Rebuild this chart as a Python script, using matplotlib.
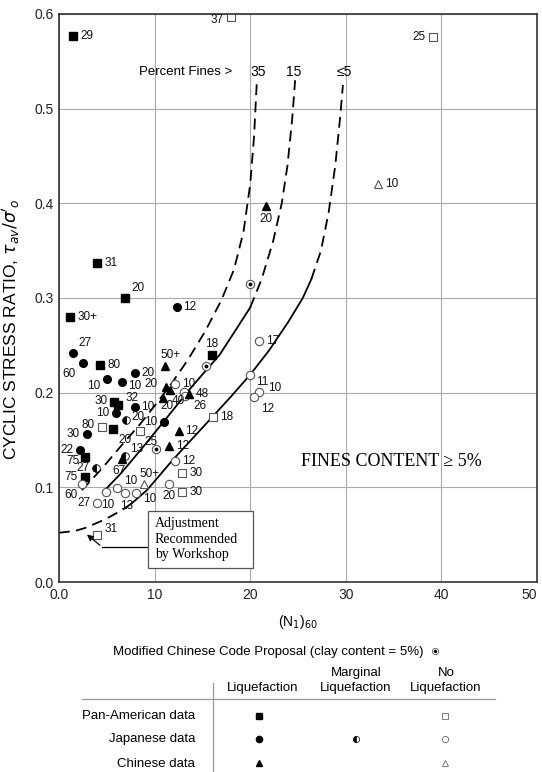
import numpy as np
import matplotlib
matplotlib.use("Agg")
import matplotlib.pyplot as plt
from matplotlib.patches import Rectangle

plt.rcParams['font.family'] = ['Liberation Sans', 'DejaVu Sans']

# ---- field case histories: (N1)60, cyclic stress ratio, label ----
pan_liq_x = [1.5, 4.0, 6.9, 1.2, 4.3, 16.0, 5.8, 6.2, 5.6, 2.7, 2.7]
pan_liq_y = [0.577, 0.337, 0.300, 0.280, 0.229, 0.240, 0.190, 0.187, 0.162, 0.132, 0.111]
pan_liq_lab = ['29', '31', '20', '30+', '80', '18', '30', '32', '20', '75', '75']

pan_no_x = [18.0, 39.1, 4.5, 8.5, 16.1, 12.9, 12.9, 4.0]
pan_no_y = [0.597, 0.576, 0.164, 0.160, 0.174, 0.115, 0.095, 0.050]
pan_no_lab = ['37', '25', '80', '25', '18', '30', '30', '31']

jap_liq_x = [12.3, 1.5, 2.5, 7.9, 5.0, 6.6, 7.9, 6.0, 2.9, 2.2, 11.0]
jap_liq_y = [0.290, 0.242, 0.231, 0.221, 0.214, 0.211, 0.185, 0.179, 0.156, 0.139, 0.169]
jap_liq_lab = ['12', '27', '60', '20', '10', '10', '10', '10', '30', '22', '10']

jap_marg_x = [7.0, 6.9, 3.9]
jap_marg_y = [0.171, 0.133, 0.120]
jap_marg_lab = ['20', '13', '27']

jap_no_x = [12.1, 13.1, 13.2, 20.9, 20.0, 20.9, 20.4, 12.1, 11.5, 2.4, 4.9, 6.1, 6.9, 8.1, 4.0]
jap_no_y = [0.209, 0.201, 0.196, 0.255, 0.219, 0.201, 0.195, 0.128, 0.104, 0.104,
            0.095, 0.099, 0.094, 0.094, 0.083]
jap_no_lab = ['10', '', '26', '17', '11', '10', '12', '12', '20', '60',
              '10', '10', '13', '10', '27']

chi_liq_x = [21.7, 11.1, 11.2, 11.6, 10.9, 13.6, 12.5, 11.5, 6.6]
chi_liq_y = [0.397, 0.228, 0.206, 0.203, 0.194, 0.199, 0.160, 0.144, 0.130]
chi_liq_lab = ['20', '50+', '20', '20', '40', '48', '12', '12', '67']

chi_no_x = [33.4, 8.9]
chi_no_y = [0.420, 0.104]
chi_no_lab = ['10', '50+']

mcc_x = [20.0, 15.4, 10.1]
mcc_y = [0.315, 0.228, 0.140]

# ---- boundary curves for fines content 35 %, 15 %, <=5 % ----
f35_x = [2.4, 4.5, 6.6, 8.5, 10.3, 11.8, 13.5, 15.3, 17.0, 18.3, 19.3, 20.0, 20.4, 20.7]
f35_y = [0.097, 0.120, 0.145, 0.167, 0.190, 0.210, 0.235, 0.265, 0.298, 0.33, 0.37, 0.42, 0.47, 0.53]

f15_solid_x = [4.6, 6.5, 8.5, 11.0, 13.7, 15.5, 16.8, 18.6, 20.0]
f15_solid_y = [0.095, 0.115, 0.139, 0.170, 0.204, 0.225, 0.240, 0.268, 0.290]
f15_dash_x = [20.0, 21.2, 22.4, 23.3, 23.9, 24.4, 24.7]
f15_dash_y = [0.290, 0.32, 0.36, 0.40, 0.44, 0.49, 0.53]

f5_solid_x = [7.6, 9.2, 11.9, 14.0, 16.1, 18.0, 20.0, 22.0, 24.0, 25.5, 26.4]
f5_solid_y = [0.083, 0.097, 0.129, 0.152, 0.175, 0.196, 0.219, 0.245, 0.275, 0.300, 0.320]
f5_dash_x = [26.4, 27.4, 28.2, 28.9, 29.4, 29.7]
f5_dash_y = [0.320, 0.35, 0.39, 0.44, 0.49, 0.525]

adj_x = [0.0, 1.7, 2.7, 4.8, 6.6, 7.6]
adj_y = [0.052, 0.054, 0.057, 0.066, 0.076, 0.083]

W, H = 542, 772
fig = plt.figure(figsize=(W / 100, H / 100), dpi=100)
ax = fig.add_axes([59 / W, 1 - 582 / H, 478 / W, 568 / H])
ax.set_xlim(0, 50)
ax.set_ylim(0, 0.6)
ax.set_xticks([0, 10, 20, 30, 40, 50])
ax.set_xticklabels(['0.0', '10', '20', '30', '40', '50'])
ax.get_xticklabels()[-1].set_horizontalalignment('right')
ax.set_yticks(np.arange(0, 0.61, 0.1))
ax.set_yticklabels(['0.0', '0.1', '0.2', '0.3', '0.4', '0.5', '0.6'])
ax.tick_params(length=0, labelsize=10, pad=4, colors='#222222')
ax.grid(True, color='#aaaaaa', lw=0.8)
ax.set_axisbelow(True)
for s in ax.spines.values():
    s.set_color('#333333')
    s.set_linewidth(1.2)
ax.set_xlabel('(N$_1$)$_{60}$', fontsize=10, labelpad=8)
ax.set_ylabel("CYCLIC STRESS RATIO, $\\tau_{av}/\\sigma'_o$", fontsize=12.5)
ax.yaxis.set_label_coords(-0.078, 0.445)

dash = (0, (6, 3.5))
ax.plot(f35_x, f35_y, color='black', lw=1.3, ls=dash)
ax.plot(f15_solid_x, f15_solid_y, color='black', lw=1.3)
ax.plot(f15_dash_x, f15_dash_y, color='black', lw=1.3, ls=dash)
ax.plot(f5_solid_x, f5_solid_y, color='black', lw=1.3)
ax.plot(f5_dash_x, f5_dash_y, color='black', lw=1.3, ls=dash)
ax.plot(adj_x, adj_y, color='black', lw=1.3, ls=dash)

ax.text(18.1, 0.539, 'Percent Fines >', fontsize=9.5, ha='right', va='center')
ax.text(20.8, 0.539, '35', fontsize=10, ha='center', va='center')
ax.text(24.5, 0.539, '15', fontsize=10, ha='center', va='center')
ax.text(29.8, 0.539, '≤5', fontsize=10, ha='center', va='center')

ms = 5.5
ax.plot(pan_liq_x, pan_liq_y, 's', color='black', ms=ms, ls='none')
ax.plot(pan_no_x, pan_no_y, 's', mfc='white', mec='#555555', mew=0.8, ms=ms, ls='none')
ax.plot(jap_liq_x, jap_liq_y, 'o', color='black', ms=ms, ls='none')
ax.plot(jap_marg_x, jap_marg_y, 'o', fillstyle='left', mfc='black', mfcalt='white',
        mec='black', mew=0.6, ms=ms, ls='none')
ax.plot(jap_no_x, jap_no_y, 'o', mfc='white', mec='#555555', mew=0.8, ms=ms + 0.5, ls='none')
ax.plot(chi_liq_x, chi_liq_y, '^', color='black', ms=ms + 0.5, ls='none')
ax.plot(chi_no_x, chi_no_y, '^', mfc='white', mec='#555555', mew=0.8, ms=ms + 0.5, ls='none')
ax.plot(mcc_x, mcc_y, 'o', mfc='white', mec='#555555', mew=0.8, ms=ms + 0.5, ls='none')
ax.plot(mcc_x, mcc_y, 'o', color='black', ms=1.8, ls='none')

# label offsets in points (dx, dy[, ha])
R, L = (5, 0), (-5, 0)
offsets = {
    'pan_liq': [R, R, (5, 7), R, R, (0, 8), (-5, 1), (5, 5), (4, -8), (-4, -3), (-5, 0)],
    'pan_no': [(-5, -2), (-5, 0), (-5, 1), (3, -8), R, R, R, (5, 4)],
    'jap_liq': [R, (4, 7), (-5, -8), R, (-5, -5), (4, -3), R, L, L, L, L],
    'jap_marg': [(4, 2), (4, 5), L],
    'jap_no': [R, R, (6, -7), R, (4, -5), (7, 3), (5, -8), R, (0, -9), (-3, -8),
               (1, -9, 'center'), (5, 5), (1, -9, 'center'), (5, -4), L],
    'chi_liq': [(0, -9), (4, 8, 'center'), (-6, 2), (-2, -12, 'center'), (6, -2), R, R, R,
                (-2, -9, 'center')],
    'chi_no': [R, (4, 7, 'center')],
}
series = {
    'pan_liq': (pan_liq_x, pan_liq_y, pan_liq_lab),
    'pan_no': (pan_no_x, pan_no_y, pan_no_lab),
    'jap_liq': (jap_liq_x, jap_liq_y, jap_liq_lab),
    'jap_marg': (jap_marg_x, jap_marg_y, jap_marg_lab),
    'jap_no': (jap_no_x, jap_no_y, jap_no_lab),
    'chi_liq': (chi_liq_x, chi_liq_y, chi_liq_lab),
    'chi_no': (chi_no_x, chi_no_y, chi_no_lab),
}
for key, (xs, ys, labs) in series.items():
    for x, y, lab, off in zip(xs, ys, labs, offsets[key]):
        if not lab:
            continue
        dx, dy = off[0], off[1]
        if len(off) > 2:
            ha = off[2]
        else:
            ha = 'left' if dx > 0 else ('right' if dx < 0 else 'center')
        ax.annotate(lab, (x, y), xytext=(dx, dy), textcoords='offset points',
                    ha=ha, va='center', fontsize=8.5, color='#111111')

ax.text(34.8, 0.127, 'FINES CONTENT ≥ 5%', family='Liberation Serif', fontsize=13,
        ha='center', va='center')

# workshop adjustment note
ax.add_patch(Rectangle((9.3, 0.015), 11.0, 0.060, fc='white', ec='#555555', lw=0.9, zorder=3))
ax.text(10.0, 0.045, 'Adjustment\nRecommended\nby Workshop', family='Liberation Serif',
        fontsize=10, ha='left', va='center', linespacing=1.25, zorder=4)
ax.plot([9.3, 4.5], [0.037, 0.037], color='black', lw=0.9)
ax.annotate('', xy=(2.7, 0.052), xytext=(4.5, 0.037),
            arrowprops=dict(arrowstyle='-|>', color='black', lw=0.9, mutation_scale=9))

# symbol key below the chart, laid out in figure pixels
lg = fig.add_axes([0, 0, 1, 1], zorder=-1)
lg.set_xlim(0, W)
lg.set_ylim(H, 0)
lg.axis('off')
fs = 9.5
lg.text(113, 652, 'Modified Chinese Code Proposal (clay content = 5%)', fontsize=fs, va='center')
lg.plot(435, 651, 'o', mfc='white', mec='#555555', mew=0.6, ms=4.5)
lg.plot(435, 651, 'o', color='black', ms=1.4)
lg.text(356, 673, 'Marginal', fontsize=fs, ha='center', va='center')
lg.text(446, 673, 'No', fontsize=fs, ha='center', va='center')
for cx in [263, 356, 446]:
    lg.text(cx, 688, 'Liquefaction', fontsize=fs, ha='center', va='center')
lg.plot([213, 213], [683, 772], color='#999999', lw=0.9)
lg.plot([82, 495], [699, 699], color='#999999', lw=0.9)
rows = ['Pan-American data', 'Japanese data', 'Chinese data']
row_y = [716, 739, 764]
for name, ry in zip(rows, row_y):
    lg.text(195, ry, name, fontsize=fs, ha='right', va='center')
sm = 4.5
lg.plot(259, 716, 's', color='black', ms=sm)
lg.plot(445, 716, 's', mfc='white', mec='#666666', mew=0.6, ms=sm)
lg.plot(259, 739, 'o', color='black', ms=sm)
lg.plot(356, 739, 'o', fillstyle='left', mfc='black', mfcalt='white', mec='black', mew=0.5, ms=sm)
lg.plot(445, 739, 'o', mfc='white', mec='#666666', mew=0.6, ms=sm)
lg.plot(259, 763, '^', color='black', ms=sm)
lg.plot(445, 763, '^', mfc='white', mec='#666666', mew=0.6, ms=sm)

fig.savefig('out.png', dpi=100)
